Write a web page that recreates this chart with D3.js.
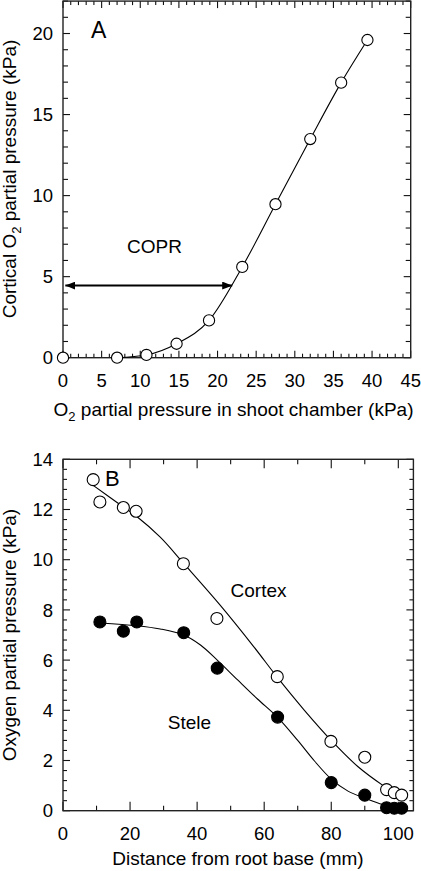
<!DOCTYPE html>
<html><head><meta charset="utf-8">
<script src="https://cdn.jsdelivr.net/npm/d3@7"></script>
<style>
html,body{margin:0;padding:0;background:#fff;}
svg{display:block;font-family:"Liberation Sans",Arial,Helvetica,sans-serif;}
</style></head>
<body>
<svg id="c" width="421" height="871"></svg>
<script>
// ---- Panel A data ----
const shootO2 = [0, 7, 10.8, 14.7, 18.9, 23.2, 27.5, 32.0, 36.0, 39.4];
const corticalO2 = [0, 0, 0.17, 0.86, 2.3, 5.6, 9.47, 13.49, 16.97, 19.6];
const copr = [0.3, 21.9, 4.45]; // start x, end x, y (kPa)
const ticksAx = [0, 5, 10, 15, 20, 25, 30, 35, 40, 45];
const ticksAy = [0, 5, 10, 15, 20];

// ---- Panel B data ----
const distCortex = [9, 11, 18, 21.8, 35.9, 45.9, 63.9, 79.9, 90, 96.5, 98.8, 101];
const cortexO2 = [13.19, 12.3, 12.08, 11.93, 9.84, 7.66, 5.34, 2.76, 2.13, 0.84, 0.72, 0.62];
const distStele = [11, 18, 22, 36, 46, 64, 80, 90, 96.5, 98.8, 101];
const steleO2 = [7.52, 7.15, 7.52, 7.09, 5.68, 3.73, 1.12, 0.62, 0.12, 0.1, 0.1];
// fitted curves
const cortexFitX = [8.8, 18, 22, 29, 36, 46.8, 56.8, 64, 72, 80, 88, 95.5, 101.5];
const cortexFitY = [12.98, 12.1, 11.72, 10.9, 9.85, 8.2, 6.55, 5.3, 4.0, 2.8, 1.75, 1.0, 0.5];
const steleFitX = [11, 22, 29, 36, 41, 46, 52, 58, 64, 70, 75, 80, 85, 90, 95.5, 101];
const steleFitY = [7.48, 7.37, 7.24, 7.0, 6.6, 6.0, 5.22, 4.45, 3.72, 2.8, 1.98, 1.26, 0.78, 0.5, 0.24, 0.08];
const ticksBx = [0, 20, 40, 60, 80, 100];
const ticksBy = [0, 2, 4, 6, 8, 10, 12, 14];

const svg = d3.select("#c");

function frame(g, x, y, o) {
  const [x0, x1] = x.range(), [y0, y1] = y.range();
  const xt = d3.range(x.domain()[0], x.domain()[1] + 1e-9, o.xMinor);
  const yt = d3.range(y.domain()[0], y.domain()[1] + 1e-9, o.yMinor);
  const isMajX = v => Math.abs(v / o.xMajor - Math.round(v / o.xMajor)) < 1e-6;
  const isMajY = v => Math.abs(v / o.yMajor - Math.round(v / o.yMajor)) < 1e-6;
  const tg = g.append("g").attr("stroke", "#111").attr("stroke-width", 1.1);
  xt.forEach(v => {
    const L = isMajX(v) ? o.xMajLen : o.xMinLen;
    tg.append("line").attr("x1", x(v)).attr("x2", x(v)).attr("y1", y0).attr("y2", y0 - L);
    tg.append("line").attr("x1", x(v)).attr("x2", x(v)).attr("y1", y1).attr("y2", y1 + L);
  });
  yt.forEach(v => {
    const L = isMajY(v) ? o.yMajLen : o.yMinLen;
    tg.append("line").attr("y1", y(v)).attr("y2", y(v)).attr("x1", x0).attr("x2", x0 + L);
    tg.append("line").attr("y1", y(v)).attr("y2", y(v)).attr("x1", x1).attr("x2", x1 - L);
  });
  g.append("rect").attr("x", x0).attr("y", y1).attr("width", x1 - x0).attr("height", y0 - y1)
    .attr("fill", "none").attr("stroke", "#222").attr("stroke-width", 1.4);
}

function labels(g, x, y, xt, yt, xBase, yRight, fs) {
  g.selectAll(null).data(xt).join("text").attr("x", d => x(d)).attr("y", xBase)
    .attr("text-anchor", "middle").attr("font-size", fs).text(d => d);
  g.selectAll(null).data(yt).join("text").attr("x", yRight).attr("y", d => y(d) + fs * 0.36)
    .attr("text-anchor", "end").attr("font-size", fs).text(d => d);
}

// ================= Panel A =================
const xA = d3.scaleLinear().domain([0, 45]).range([63, 410.7]);
const yA = d3.scaleLinear().domain([0, 22]).range([357.7, 1.1]);
const gA = svg.append("g");
frame(gA, xA, yA, {xMinor: 1, xMajor: 5, yMinor: 1, yMajor: 5, xMajLen: 7, xMinLen: 4, yMajLen: 7, yMinLen: 5});
labels(gA, xA, yA, ticksAx, ticksAy, 386.5, 53, 18.5);

const ptsA = shootO2.map((d, i) => [d, corticalO2[i]]);
gA.append("path").datum(ptsA.slice(1))
  .attr("d", d3.line().x(d => xA(d[0])).y(d => yA(d[1])).curve(d3.curveMonotoneX))
  .attr("fill", "none").attr("stroke", "#000").attr("stroke-width", 1.1);
gA.selectAll("circle.a").data(ptsA).join("circle")
  .attr("cx", d => xA(d[0])).attr("cy", d => yA(d[1])).attr("r", 5.6)
  .attr("fill", "#fff").attr("stroke", "#000").attr("stroke-width", 1.1);

// COPR arrow
const defs = svg.append("defs");
defs.append("marker").attr("id", "ah").attr("viewBox", "0 0 10 8").attr("refX", 10).attr("refY", 4)
  .attr("markerWidth", 10).attr("markerHeight", 8).attr("markerUnits", "userSpaceOnUse")
  .attr("orient", "auto-start-reverse")
  .append("path").attr("d", "M0,0 L10,4 L0,8 Z").attr("fill", "#000");
gA.append("line").attr("x1", xA(copr[0])).attr("x2", xA(copr[1]))
  .attr("y1", yA(copr[2])).attr("y2", yA(copr[2]))
  .attr("stroke", "#000").attr("stroke-width", 2)
  .attr("marker-start", "url(#ah)").attr("marker-end", "url(#ah)");
gA.append("text").attr("x", 154.5).attr("y", 252.7).attr("text-anchor", "middle").attr("font-size", 19).text("COPR");
gA.append("text").attr("x", 91).attr("y", 38.3).attr("font-size", 23).text("A");

// axis titles A
const tA = gA.append("text").attr("x", 233.5).attr("y", 415.5).attr("text-anchor", "middle").attr("font-size", 19);
tA.append("tspan").text("O");
tA.append("tspan").attr("font-size", 13).attr("dy", 5).text("2");
tA.append("tspan").attr("dy", -5).text(" partial pressure in shoot chamber (kPa)");
const yTA = gA.append("text").attr("transform", "translate(15.5,179) rotate(-90)").attr("text-anchor", "middle").attr("font-size", 19);
yTA.append("tspan").text("Cortical O");
yTA.append("tspan").attr("font-size", 13).attr("dy", 5).text("2");
yTA.append("tspan").attr("dy", -5).text(" partial pressure (kPa)");

// ================= Panel B =================
const xB = d3.scaleLinear().domain([0, 104.5]).range([63, 413.4]);
const yB = d3.scaleLinear().domain([0, 14]).range([810.7, 459.3]);
const gB = svg.append("g");
frame(gB, xB, yB, {xMinor: 10, xMajor: 20, yMinor: 0.4, yMajor: 2, xMajLen: 9, xMinLen: 5, yMajLen: 7, yMinLen: 4});
labels(gB, xB, yB, ticksBx, ticksBy, 839.5, 53, 18.5);

const lineB = d3.line().x(d => xB(d[0])).y(d => yB(d[1])).curve(d3.curveCatmullRom.alpha(0.5));
gB.append("path").datum(cortexFitX.map((d, i) => [d, cortexFitY[i]])).attr("d", lineB)
  .attr("fill", "none").attr("stroke", "#000").attr("stroke-width", 1.1);
gB.append("path").datum(steleFitX.map((d, i) => [d, steleFitY[i]])).attr("d", lineB)
  .attr("fill", "none").attr("stroke", "#000").attr("stroke-width", 1.1);
gB.selectAll("circle.c").data(distCortex.map((d, i) => [d, cortexO2[i]])).join("circle")
  .attr("cx", d => xB(d[0])).attr("cy", d => yB(d[1])).attr("r", 6)
  .attr("fill", "#fff").attr("stroke", "#000").attr("stroke-width", 1.1);
gB.selectAll("circle.s").data(distStele.map((d, i) => [d, steleO2[i]])).join("circle")
  .attr("cx", d => xB(d[0])).attr("cy", d => yB(d[1])).attr("r", 6)
  .attr("fill", "#000").attr("stroke", "#000").attr("stroke-width", 1.1);

gB.append("text").attr("x", 105).attr("y", 486).attr("font-size", 22).text("B");
gB.append("text").attr("x", 258.5).attr("y", 596.7).attr("text-anchor", "middle").attr("font-size", 19).text("Cortex");
gB.append("text").attr("x", 189.5).attr("y", 729.3).attr("text-anchor", "middle").attr("font-size", 19).text("Stele");

gB.append("text").attr("x", 238).attr("y", 865).attr("text-anchor", "middle").attr("font-size", 19).text("Distance from root base (mm)");
gB.append("text").attr("transform", "translate(15.5,635) rotate(-90)").attr("text-anchor", "middle").attr("font-size", 19).text("Oxygen partial pressure (kPa)");
</script>
</body></html>
